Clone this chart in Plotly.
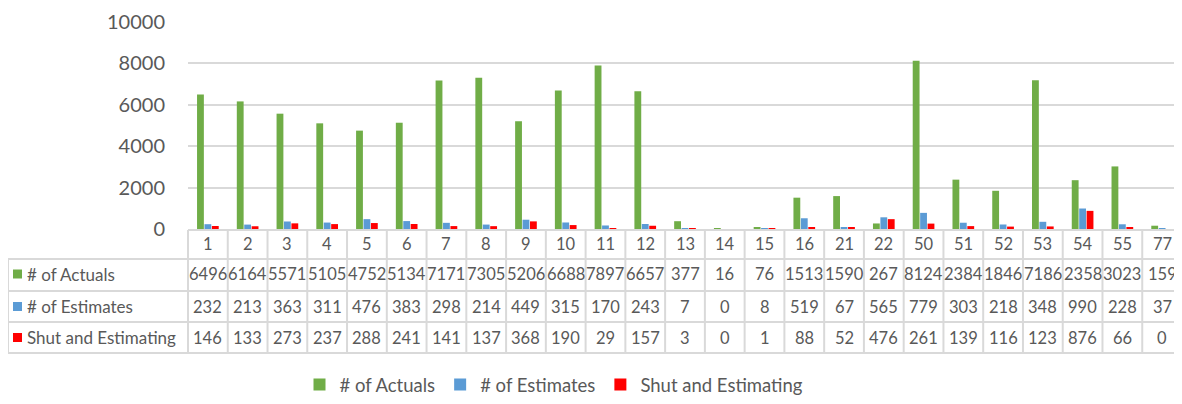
import plotly.graph_objects as go

categories = ["1", "2", "3", "4", "5", "6", "7", "8", "9", "10", "11", "12", "13", "14",
              "15", "16", "21", "22", "50", "51", "52", "53", "54", "55", "77"]
actuals = [6496, 6164, 5571, 5105, 4752, 5134, 7171, 7305, 5206, 6688, 7897, 6657, 377, 16,
           76, 1513, 1590, 267, 8124, 2384, 1846, 7186, 2358, 3023, 159]
estimates = [232, 213, 363, 311, 476, 383, 298, 214, 449, 315, 170, 243, 7, 0,
             8, 519, 67, 565, 779, 303, 218, 348, 990, 228, 37]
shut_est = [146, 133, 273, 237, 288, 241, 141, 137, 368, 190, 29, 157, 3, 0,
            1, 88, 52, 476, 261, 139, 116, 123, 876, 66, 0]
series_names = ["# of Actuals", "# of Estimates", "Shut and Estimating"]
y_ticks = [0, 2000, 4000, 6000, 8000, 10000]

colors = ["#70AD47", "#5B9BD5", "#FF0000"]
series = [actuals, estimates, shut_est]

OFF = 8  # page body margin
W, H = 1182 - OFF, 404 - 2 * OFF
L = 188 - OFF
T = 22 - OFF
B = H - (229 - OFF)
R = 0
PW = W - L - R
PH = H - T - B
FONT = "Lato"
TXT = "#595959"
GRID = "#D9D9D9"

def px_x(px):  # px in reference-window pixels
    return (px - OFF - L) / PW

def px_y(py):
    return (H - B - (py - OFF)) / PH

fig = go.Figure()
for name, vals, c in zip(series_names, series, colors):
    fig.add_trace(go.Bar(x=categories, y=vals, name=name, marker=dict(color=c, line=dict(width=0))))

shapes = []
annotations = []
n = len(categories)

row_lines = [230, 259, 291, 322, 353]
row_centers = [244, 274, 306.5, 337.5]
left_edge = 8

shapes.append(dict(type="line", xref="paper", yref="paper", x0=0, x1=1,
                   y0=px_y(row_lines[0]), y1=px_y(row_lines[0]), line=dict(color=GRID, width=2)))
for py in row_lines[1:]:
    shapes.append(dict(type="line", xref="paper", yref="paper", x0=px_x(left_edge), x1=1,
                       y0=px_y(py), y1=px_y(py), line=dict(color=GRID, width=2)))
for i in range(n + 1):
    xp = i / n
    shapes.append(dict(type="line", xref="paper", yref="paper", x0=xp, x1=xp,
                       y0=px_y(row_lines[0]), y1=px_y(row_lines[-1]), line=dict(color=GRID, width=2)))
shapes.append(dict(type="line", xref="paper", yref="paper", x0=px_x(left_edge), x1=px_x(left_edge),
                   y0=px_y(row_lines[1]), y1=px_y(row_lines[-1]), line=dict(color=GRID, width=2)))

for i, c in enumerate(categories):
    annotations.append(dict(x=i, xref="x", y=px_y(row_centers[0]), yref="paper", text=c,
                            showarrow=False, font=dict(family=FONT, size=16.5, color=TXT),
                            xanchor="center", yanchor="middle"))
for r, (name, vals, c) in enumerate(zip(series_names, series, colors)):
    yc = px_y(row_centers[r + 1])
    for i, v in enumerate(vals):
        annotations.append(dict(x=i, xref="x", y=yc, yref="paper", text=str(v),
                                showarrow=False, font=dict(family=FONT, size=16.5, color=TXT),
                                xanchor="center", yanchor="middle"))
    annotations.append(dict(x=px_x(25), xref="paper", y=yc, yref="paper", text=name,
                            showarrow=False, font=dict(family=FONT, size=17, color=TXT),
                            xanchor="left", yanchor="middle"))
    shapes.append(dict(type="rect", xref="paper", yref="paper",
                       x0=px_x(13), x1=px_x(22),
                       y0=px_y(row_centers[r + 1] + 4.5), y1=px_y(row_centers[r + 1] - 4.5),
                       fillcolor=c, line=dict(width=0)))

fig.update_layout(
    width=W, height=H,
    margin=dict(l=L, r=R, t=T, b=B, pad=0),
    paper_bgcolor="white", plot_bgcolor="white",
    barmode="group", bargap=0.44, bargroupgap=0.08,
    font=dict(family=FONT, color=TXT),
    xaxis=dict(type="category", range=[-0.5, n - 0.5], showticklabels=False,
               showgrid=False, zeroline=False, showline=False, ticks=""),
    yaxis=dict(range=[0, 10000], tickvals=y_ticks, tickformat="d", showgrid=True,
               gridcolor=GRID, gridwidth=1.5,
               zeroline=False, showline=False, ticks="", ticklabelstandoff=22,
               tickfont=dict(family=FONT, size=20, color=TXT)),
    legend=dict(orientation="h", xref="container", yref="container",
                x=(554 - OFF) / W, y=1 - (385 - OFF) / H,
                xanchor="center", yanchor="middle", font=dict(family=FONT, size=18.5, color=TXT),
                itemwidth=30, tracegroupgap=0, borderwidth=0),
    shapes=shapes, annotations=annotations,
)

fig.write_html("out.html")
